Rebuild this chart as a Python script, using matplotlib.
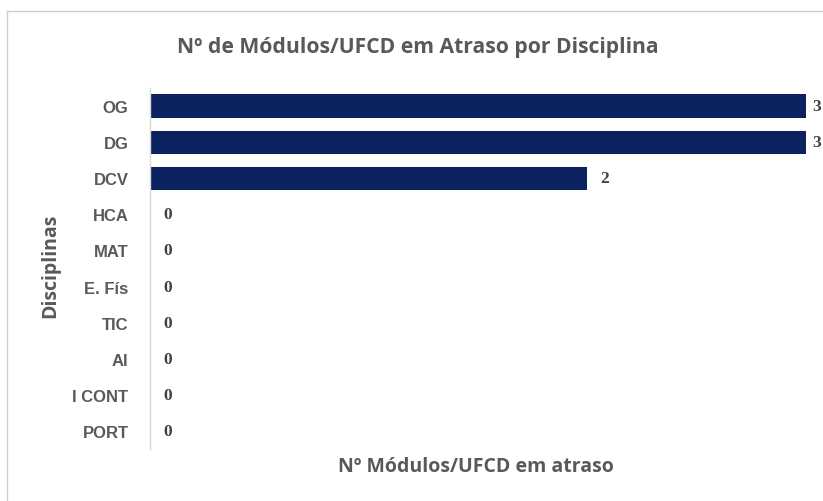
import matplotlib
matplotlib.use('Agg')
import matplotlib.pyplot as plt
from matplotlib.lines import Line2D

# data (top to bottom as shown)
disciplinas = ["OG", "DG", "DCV", "HCA", "MAT", "E. Fís", "TIC", "AI", "I CONT", "PORT"]
modulos_atraso = [3, 3, 2, 0, 0, 0, 0, 0, 0, 0]

W, H = 823, 502
BAR_COLOR = "#0B2160"
TEXT_GRAY = "#595959"

fig = plt.figure(figsize=(W / 100, H / 100), dpi=100)
fig.patch.set_facecolor("white")

# frame of the chart area (only top and left edges visible)
fig.add_artist(Line2D([7 / W, 7 / W], [0, 1 - 12 / H], color="#D0D0D0", lw=1))
fig.add_artist(Line2D([7 / W, 1], [1 - 12 / H, 1 - 12 / H], color="#D0D0D0", lw=1))

# axes in pixel terms: zero at x=150, 3 units -> x=806
x0, unit = 150, 218.7
xmax = 3.3
top_px, bot_px = 89, 450
ax = fig.add_axes([x0 / W, 1 - bot_px / H, unit * xmax / W, (bot_px - top_px) / H])

y = list(range(len(disciplinas)))
ax.barh(y, modulos_atraso, height=0.64, color=BAR_COLOR)
ax.set_ylim(len(disciplinas) - 0.5, -0.5)
ax.set_xlim(0, xmax)

vmax = max(modulos_atraso)
for yi, v in zip(y, modulos_atraso):
    pad = 0.03 if v == vmax else 0.06   # labels at the edge sit tighter
    ax.text(v + pad, yi, str(v), va="center", ha="left", fontsize=12.5,
            family="Liberation Serif", fontweight="bold", color="#404040")

ax.set_yticks(y)
ax.set_yticklabels(disciplinas, fontsize=12, fontweight="bold", color=TEXT_GRAY,
                   family="Liberation Sans")
ax.tick_params(axis="y", length=0, pad=15.5)
ax.set_xticks([])
for s in ["top", "right", "bottom"]:
    ax.spines[s].set_visible(False)
ax.spines["left"].set_color("#D9D9D9")
ax.spines["left"].set_linewidth(1)

fig.text(418 / W, 1 - 47 / H, "Nº de Módulos/UFCD em Atraso por Disciplina",
         ha="center", va="center", fontsize=15.2, fontweight="bold", color=TEXT_GRAY,
         family="Open Sans")
fig.text(476 / W, 1 - 467 / H, "Nº Módulos/UFCD em atraso",
         ha="center", va="center", fontsize=14, fontweight="bold", color=TEXT_GRAY,
         family="Open Sans")
fig.text(50 / W, 1 - 266 / H, "Disciplinas", rotation=90,
         ha="center", va="center", fontsize=14, fontweight="bold", color=TEXT_GRAY,
         family="Open Sans")

fig.savefig("out.png", dpi=100)
